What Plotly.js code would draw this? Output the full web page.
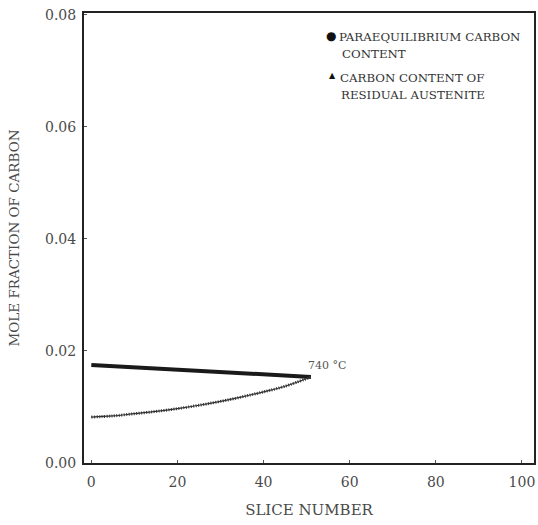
<!DOCTYPE html>
<html>
<head>
<meta charset="utf-8">
<script src="https://cdn.plot.ly/plotly-3.0.1.min.js"></script>
<style>html,body{margin:0;padding:0;background:#fff;}#chart{width:538px;height:525px;}</style>
</head>
<body>
<div id="chart"></div>
<script>
// Paraequilibrium carbon content (upper curve)
var paraSlice = [0, 5, 10, 15, 20, 25, 30, 35, 40, 45, 51];
var paraCarbon = [0.0175, 0.0173, 0.0171, 0.0169, 0.0167, 0.0165, 0.0163, 0.0161, 0.0159, 0.0157, 0.01535];
// Carbon content of residual austenite (lower curve)
var austSlice = [0, 5, 10, 15, 20, 25, 30, 35, 40, 45, 51];
var austCarbon = [0.0082, 0.0084, 0.0088, 0.0092, 0.0097, 0.0103, 0.0110, 0.0118, 0.0127, 0.0137, 0.01535];
var xTicks = [0, 20, 40, 60, 80, 100];
var yTicks = [0.00, 0.02, 0.04, 0.06, 0.08];

var serif = "DejaVu Serif, Liberation Serif, serif";
var txt = "#4a4a4a";

var traces = [
  {x: paraSlice, y: paraCarbon, mode: "lines", line: {color: "#1a1a1a", width: 4}, name: "PARAEQUILIBRIUM CARBON CONTENT", showlegend: false},
  {x: austSlice, y: austCarbon, mode: "lines", line: {color: "#333", width: 1.2, shape: "spline"}, name: "CARBON CONTENT OF RESIDUAL AUSTENITE", showlegend: false},
  {x: austSlice, y: austCarbon, mode: "lines", line: {color: "#333", width: 3, dash: "1px,1.5px", shape: "spline"}, hoverinfo: "skip", showlegend: false}
];

function px(x){return (x-84)/450;}
function py(y){return (463-y)/450;}
var fnt = {family: serif, size: 11.8, color: "#333"};
var annotations = [
  {xref:"paper", yref:"paper", x:px(331), y:py(36), text:"●", showarrow:false, xanchor:"center", yanchor:"middle", font:{family:serif,size:12,color:"#111"}},
  {xref:"paper", yref:"paper", x:px(337), y:py(37), text:"PARAEQUILIBRIUM CARBON", showarrow:false, xanchor:"left", yanchor:"middle", font:fnt},
  {xref:"paper", yref:"paper", x:px(340), y:py(54), text:"CONTENT", showarrow:false, xanchor:"left", yanchor:"middle", font:fnt},
  {xref:"paper", yref:"paper", x:px(332), y:py(75), text:"▲", showarrow:false, xanchor:"center", yanchor:"middle", font:{family:serif,size:8,color:"#111"}},
  {xref:"paper", yref:"paper", x:px(338), y:py(78), text:"CARBON CONTENT OF", showarrow:false, xanchor:"left", yanchor:"middle", font:fnt},
  {xref:"paper", yref:"paper", x:px(339), y:py(95), text:"RESIDUAL AUSTENITE", showarrow:false, xanchor:"left", yanchor:"middle", font:fnt},
  {xref:"paper", yref:"paper", x:px(306), y:py(365), text:"740 °C", showarrow:false, xanchor:"left", yanchor:"middle", font:{family:serif,size:11,color:"#555"}}
];

var layout = {
  width: 538, height: 525,
  margin: {l: 84, r: 4, t: 13, b: 62},
  paper_bgcolor: "#fff", plot_bgcolor: "#fff",
  showlegend: false,
  xaxis: {
    range: [-1.7, 102.8], tickvals: xTicks, ticktext: xTicks.map(String),
    showgrid: false, zeroline: false, showline: true, mirror: true, linecolor: "#222", linewidth: 2,
    ticks: "inside", ticklen: 3, tickcolor: "#555", ticklabelstandoff: 5,
    tickfont: {family: serif, size: 14, color: txt},
    title: {text: "SLICE NUMBER", font: {family: serif, size: 15, color: txt}, standoff: 16}
  },
  yaxis: {
    range: [0, 0.0803], tickvals: yTicks, ticktext: yTicks.map(function(v){return v.toFixed(2);}),
    showgrid: false, zeroline: false, showline: true, mirror: true, linecolor: "#222", linewidth: 2,
    ticks: "inside", ticklen: 3, tickcolor: "#555", ticklabelstandoff: 3,
    tickfont: {family: serif, size: 14, color: txt},
    title: {text: "MOLE FRACTION OF CARBON", font: {family: serif, size: 13.5, color: txt}, standoff: 22}
  },
  annotations: annotations
};

Plotly.newPlot("chart", traces, layout, {displayModeBar: false, staticPlot: true});
</script>
</body>
</html>
